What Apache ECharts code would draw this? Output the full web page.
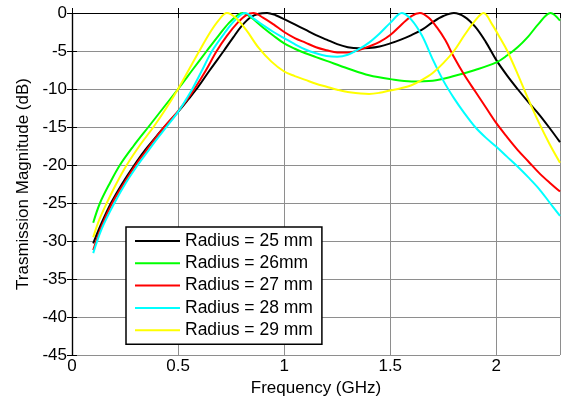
<!DOCTYPE html>
<html>
<head>
<meta charset="utf-8">
<title>Transmission vs Frequency</title>
<script src="https://cdn.jsdelivr.net/npm/echarts@6/dist/echarts.min.js"></script>
<style>
  html, body { margin: 0; padding: 0; background: #fff; }
  #chart { width: 561px; height: 403px; }
</style>
</head>
<body>
<div id="chart"></div>
<script>
// Transmission magnitude (dB) against frequency (GHz), one curve per radius
var seriesNames = ['Radius = 25 mm', 'Radius = 26mm', 'Radius = 27 mm', 'Radius = 28 mm', 'Radius = 29 mm'];
var seriesColors = ['#000000', '#00ff00', '#ff0000', '#00ffff', '#ffff00'];

var r25 = [[0.10,-30.3],[0.14,-27.6],[0.184,-25],[0.24,-22.3],[0.294,-20],[0.34,-18.2],[0.39,-16.5],[0.435,-15],[0.5,-13.0],[0.55,-11.3],[0.595,-9.7],[0.65,-7.5],[0.715,-5],[0.76,-3.2],[0.8,-1.7],[0.84,-0.6],[0.88,-0.1],[0.92,0],[0.96,-0.3],[1.0,-0.8],[1.05,-1.5],[1.1,-2.2],[1.15,-2.9],[1.2,-3.5],[1.25,-4.1],[1.3,-4.5],[1.35,-4.65],[1.4,-4.6],[1.45,-4.4],[1.5,-4.0],[1.55,-3.5],[1.6,-2.9],[1.65,-2.2],[1.7,-1.2],[1.75,-0.4],[1.8,0],[1.85,-0.5],[1.9,-1.8],[1.95,-3.8],[2.0,-6.2],[2.05,-8.2],[2.1,-10],[2.15,-11.7],[2.2,-13.3],[2.25,-15.1],[2.3,-17]];

var r26 = [[0.1,-27.6],[0.132,-25],[0.18,-22.3],[0.226,-20],[0.29,-17.5],[0.36,-15],[0.43,-12.5],[0.5,-10],[0.57,-7.4],[0.635,-5],[0.69,-3.0],[0.74,-1.3],[0.78,-0.3],[0.805,0],[0.84,-0.5],[0.9,-1.9],[0.95,-3.0],[1.0,-4.0],[1.05,-4.7],[1.1,-5.3],[1.15,-5.8],[1.2,-6.3],[1.3,-7.3],[1.4,-8.2],[1.5,-8.7],[1.6,-9.0],[1.7,-8.9],[1.8,-8.3],[1.9,-7.5],[2.0,-6.5],[2.05,-5.6],[2.1,-4.5],[2.15,-3.1],[2.2,-1.4],[2.255,0],[2.3,-1.0]];

var r27 = [[0.1,-31.2],[0.14,-28],[0.19,-25],[0.245,-22.4],[0.3,-20],[0.35,-18.1],[0.39,-16.6],[0.435,-15],[0.5,-12.9],[0.54,-11.5],[0.577,-10],[0.63,-7.6],[0.682,-5],[0.73,-3.0],[0.78,-1.3],[0.82,-0.3],[0.855,0],[0.9,-0.6],[0.95,-1.5],[1.0,-2.5],[1.05,-3.3],[1.1,-3.9],[1.15,-4.5],[1.2,-4.9],[1.25,-5.2],[1.3,-5.2],[1.35,-4.9],[1.4,-4.4],[1.45,-3.8],[1.5,-2.9],[1.55,-1.6],[1.6,-0.4],[1.64,0],[1.68,-0.6],[1.72,-1.9],[1.76,-3.6],[1.8,-5.8],[1.85,-8.2],[1.9,-10.3],[1.95,-12.4],[2.0,-14.5],[2.05,-16.3],[2.1,-18],[2.15,-19.5],[2.2,-21],[2.25,-22.3],[2.3,-23.5]];

var r28 = [[0.1,-31.6],[0.14,-28.4],[0.2,-25],[0.255,-22.3],[0.31,-20],[0.36,-18.1],[0.4,-16.6],[0.445,-15],[0.5,-13.0],[0.535,-11.5],[0.565,-10.1],[0.61,-7.7],[0.66,-5],[0.72,-2.6],[0.77,-0.9],[0.816,0],[0.86,-0.8],[0.9,-1.6],[0.95,-2.5],[1.0,-3.3],[1.05,-4.1],[1.1,-4.8],[1.15,-5.3],[1.2,-5.65],[1.25,-5.75],[1.3,-5.5],[1.35,-4.8],[1.4,-3.9],[1.45,-2.7],[1.5,-1.3],[1.555,0],[1.6,-0.9],[1.65,-3.0],[1.7,-6.1],[1.75,-8.9],[1.8,-11.2],[1.85,-13.2],[1.9,-15.0],[1.95,-16.4],[2.0,-17.6],[2.05,-18.9],[2.1,-20.2],[2.15,-21.6],[2.2,-23.1],[2.25,-24.9],[2.3,-26.7]];

var r29 = [[0.1,-29.5],[0.13,-27.1],[0.164,-25],[0.21,-22.4],[0.258,-20],[0.32,-17.4],[0.384,-15],[0.44,-12.7],[0.5,-10],[0.55,-7.5],[0.6,-5],[0.65,-2.6],[0.69,-1.0],[0.73,0],[0.77,-0.6],[0.82,-2.2],[0.88,-4.6],[0.94,-6.4],[1.0,-7.7],[1.05,-8.3],[1.1,-8.8],[1.15,-9.3],[1.2,-9.7],[1.25,-10.1],[1.3,-10.4],[1.4,-10.65],[1.45,-10.5],[1.5,-10.2],[1.55,-9.9],[1.6,-9.5],[1.65,-8.8],[1.7,-7.9],[1.75,-6.6],[1.8,-5.0],[1.85,-2.9],[1.9,-1.0],[1.94,0],[1.98,-1.5],[2.02,-3.4],[2.05,-4.9],[2.1,-8.0],[2.15,-11.3],[2.2,-14.4],[2.25,-17.2],[2.3,-19.7]];

var seriesData = [r25, r26, r27, r28, r29];

var FONT = "'Liberation Sans', Arial, Helvetica, sans-serif";

function xTickLabel(v) {
  var k = Math.round(v * 2);
  if (Math.abs(v * 2 - k) > 1e-6) return '';
  return String(k / 2);
}

var chart = echarts.init(document.getElementById('chart'), null, { renderer: 'canvas' });

var frameAxis = { lineStyle: { color: '#000', width: 1.2 } };

chart.setOption({
  animation: false,
  backgroundColor: '#fff',
  grid: { left: 72, right: 1, top: 13, bottom: 48, containLabel: false },
  legend: {
    orient: 'vertical',
    left: 126,
    top: 227,
    data: seriesNames,
    icon: 'rect',
    backgroundColor: '#fff',
    borderColor: '#000',
    borderWidth: 1.5,
    padding: [5, 9, 5, 9],
    itemWidth: 45,
    itemHeight: 2,
    itemGap: 4.3,
    textStyle: { fontFamily: FONT, fontSize: 17.5, color: '#000', lineHeight: 18 },
    selectedMode: false
  },
  xAxis: [
    {
      type: 'value', min: 0, max: 2.3, interval: 0.5,
      name: 'Frequency (GHz)', nameLocation: 'middle', nameGap: 25,
      nameTextStyle: { fontFamily: FONT, fontSize: 17, color: '#000' },
      axisLine: frameAxis,
      axisTick: { inside: true, length: 5, lineStyle: { color: '#000' } },
      axisLabel: { fontFamily: FONT, fontSize: 17, color: '#000', margin: 3, formatter: xTickLabel, showMaxLabel: false },
      splitLine: { show: true, lineStyle: { color: '#8e8e8e', width: 1 } }
    },
    {
      type: 'value', min: 0, max: 2.3, interval: 0.5, position: 'top',
      axisLine: frameAxis,
      axisTick: { inside: true, length: 5, lineStyle: { color: '#000' } },
      axisLabel: { show: false },
      splitLine: { show: false }
    }
  ],
  yAxis: [
    {
      type: 'value', min: -45, max: 0, interval: 5,
      name: 'Trasmission Magnitude (dB)', nameLocation: 'middle', nameGap: 37,
      nameTextStyle: { fontFamily: FONT, fontSize: 17, color: '#000' },
      axisLine: frameAxis,
      axisTick: { inside: true, length: 5, lineStyle: { color: '#000' } },
      axisLabel: { fontFamily: FONT, fontSize: 17, color: '#000', margin: 5 },
      splitLine: { show: true, lineStyle: { color: '#8e8e8e', width: 1 } }
    },
    {
      type: 'value', min: -45, max: 0, interval: 5, position: 'right',
      axisLine: frameAxis,
      axisTick: { inside: true, length: 5, lineStyle: { color: '#000' } },
      axisLabel: { show: false },
      splitLine: { show: false }
    }
  ],
  series: seriesNames.map(function (name, i) {
    return {
      name: name,
      type: 'line',
      xAxisIndex: 0,
      yAxisIndex: 0,
      data: seriesData[i],
      symbol: 'none',
      smooth: 0.35,
      clip: true,
      color: seriesColors[i],
      lineStyle: { color: seriesColors[i], width: 2 }
    };
  })
});
</script>
</body>
</html>
